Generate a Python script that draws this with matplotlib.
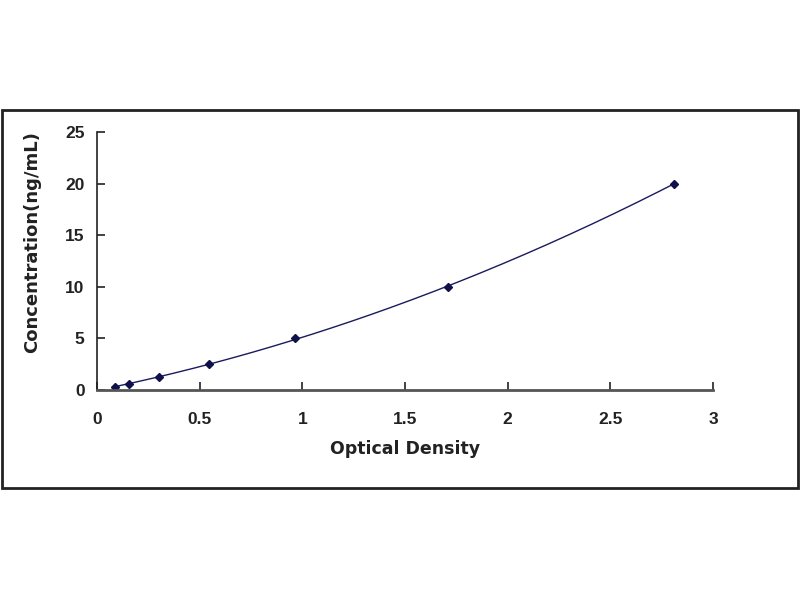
import matplotlib
matplotlib.use('Agg')
import matplotlib.pyplot as plt
import numpy as np
from matplotlib.patches import Rectangle

od = [0.088, 0.157, 0.30, 0.547, 0.964, 1.711, 2.81]
conc = [0.312, 0.625, 1.25, 2.5, 5, 10, 20]
xticks = [0, 0.5, 1, 1.5, 2, 2.5, 3]
yticks = [0, 5, 10, 15, 20, 25]

plt.rcParams['font.family'] = ['Liberation Sans', 'DejaVu Sans']
plt.rcParams['font.weight'] = 'bold'

fig = plt.figure(figsize=(8, 6), dpi=100)
fig.patches.append(Rectangle((2/800, 1-488/600), 796/800, 378/600, transform=fig.transFigure,
                             fill=False, edgecolor='#222222', linewidth=2))

ax = fig.add_axes([97/800, 1-390/600, 616/800, 258/600])

# smooth standard curve
coef = np.polyfit(od, conc, 2)
xs = np.linspace(min(od), max(od), 200)
ax.plot(xs, np.polyval(coef, xs), color='#1a1a5e', linewidth=1)
ax.plot(od, conc, linestyle='none', marker='D', markersize=4, color='#10104a')

ax.set_xlim(0, 3)
ax.set_ylim(0, 25)
ax.set_xticks(xticks)
ax.set_xticklabels(['0', '0.5', '1', '1.5', '2', '2.5', '3'])
ax.set_yticks(yticks)
for s in ['top', 'right']:
    ax.spines[s].set_visible(False)
ax.spines['left'].set_color('#222222')
ax.spines['bottom'].set_color('#555555')
ax.spines['left'].set_linewidth(1.2)
ax.spines['bottom'].set_linewidth(2)
ax.tick_params(direction='in', length=6, width=1.2, labelsize=12.5, colors='#222222')
ax.tick_params(axis='x', pad=16)
ax.tick_params(axis='y', pad=9)

lab = dict(fontweight='bold', color='#222222', family=['DejaVu Sans'])
ax.set_xlabel('Optical Density', fontsize=12.5, **lab)
ax.set_ylabel('Concentration(ng/mL)', fontsize=13, **lab)
ax.xaxis.set_label_coords(0.5, -0.195)
ax.yaxis.set_label_coords(-0.09, 0.574)

fig.savefig('out.png', dpi=100, facecolor='white')
